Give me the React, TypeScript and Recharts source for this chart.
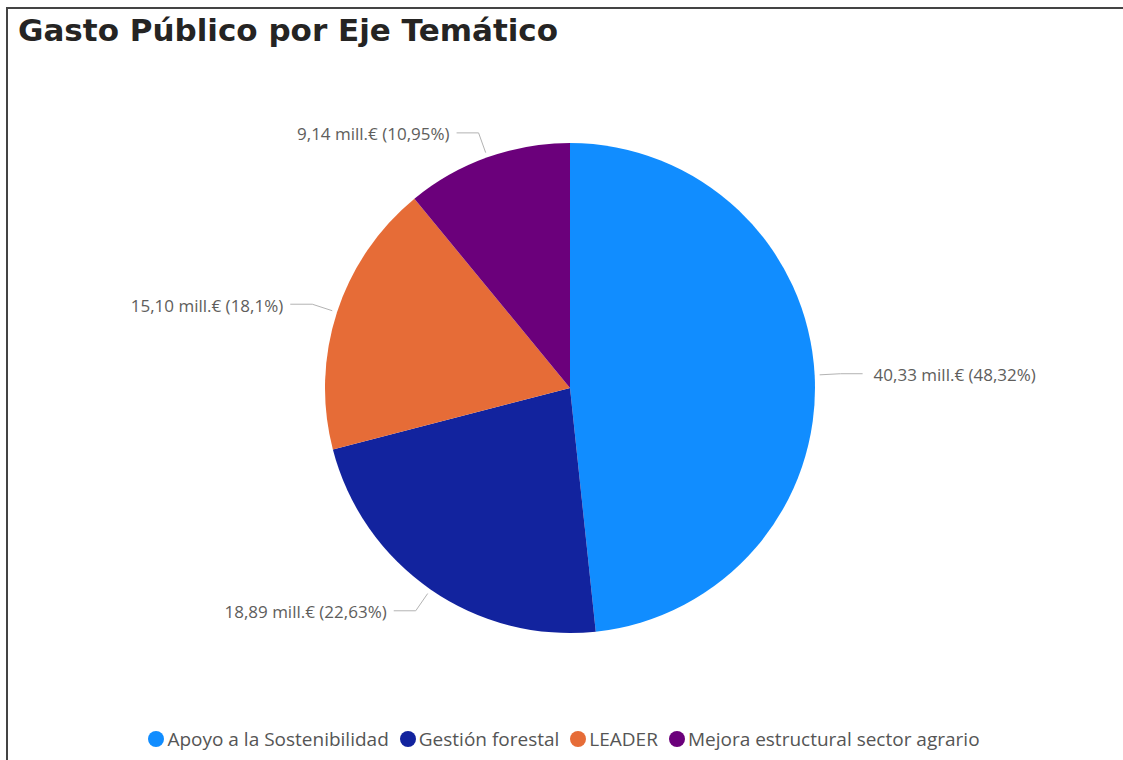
import React from "react";
import { PieChart, Pie, Cell } from "recharts";

const categories = [
  "Apoyo a la Sostenibilidad",
  "Gestión forestal",
  "LEADER",
  "Mejora estructural sector agrario",
];
const values = [40.33, 18.89, 15.1, 9.14];
const percents = ["48,32", "22,63", "18,1", "10,95"];
const colors = ["#118DFF", "#12239E", "#E66C37", "#6B007B"];

const data = categories.map((name, i) => ({
  name,
  value: values[i],
  label: `${values[i].toFixed(2).replace(".", ",")} mill.€ (${percents[i]}%)`,
}));

const RAD = Math.PI / 180;
const FONT = "'Open Sans', 'Noto Sans', sans-serif";

const renderLabel = (props: any) => {
  const { cx, cy, midAngle, outerRadius, index } = props;
  const cos = Math.cos(-midAngle * RAD);
  const sin = Math.sin(-midAngle * RAD);
  const sx = cx + (outerRadius + 5) * cos;
  const sy = cy + (outerRadius + 5) * sin;
  const mx = cx + (outerRadius + 26) * cos;
  const my = cy + (outerRadius + 26) * sin;
  const right = cos >= 0;
  const ex = mx + (right ? 22 : -22);
  const tx = ex + (right ? 11 : -7);
  return (
    <g key={`lbl-${index}`}>
      <polyline
        points={`${sx},${sy} ${mx},${my} ${ex},${my}`}
        fill="none"
        stroke="#b3b3b3"
        strokeWidth={1}
      />
      <text
        x={tx}
        y={my + 1}
        textAnchor={right ? "start" : "end"}
        dominantBaseline="central"
        fill="#605E5C"
        fontSize={17}
        fontFamily={FONT}
      >
        {data[index].label}
      </text>
    </g>
  );
};

export default function App() {
  return (
    <div
      style={{
        position: "absolute",
        left: 0,
        top: 0,
        width: 1123,
        height: 760,
        background: "#fff",
        overflow: "hidden",
      }}
    >
      <div
        style={{
          position: "absolute",
          left: 6,
          top: 7,
          width: 1130,
          height: 770,
          borderLeft: "2px solid #444",
          borderTop: "2px solid #444",
        }}
      />
      <div
        style={{
          position: "absolute",
          left: 18,
          top: 12,
          fontFamily: "'DejaVu Sans', sans-serif",
          fontWeight: 700,
          fontSize: 31,
          color: "#252423",
          whiteSpace: "nowrap",
        }}
      >
        Gasto Público por Eje Temático
      </div>
      <div style={{ position: "absolute", left: 0, top: 0 }}>
        <PieChart
          width={1123}
          height={760}
          margin={{ top: 0, right: 0, bottom: 0, left: 0 }}
        >
          <Pie
            data={data}
            dataKey="value"
            nameKey="name"
            cx={570}
            cy={388}
            outerRadius={245}
            startAngle={90}
            endAngle={-270}
            stroke="none"
            label={renderLabel}
            labelLine={false}
            isAnimationActive={false}
          >
            {data.map((d, i) => (
              <Cell key={d.name} fill={colors[i]} />
            ))}
          </Pie>
        </PieChart>
      </div>
      <div
        style={{
          position: "absolute",
          left: 14,
          top: 726,
          width: 1111,
          display: "flex",
          justifyContent: "center",
          alignItems: "center",
          fontFamily: FONT,
          fontSize: 19,
          color: "#555555",
          whiteSpace: "nowrap",
        }}
      >
        {data.map((d, i) => (
          <span
            key={d.name}
            style={{ display: "inline-flex", alignItems: "center", marginRight: 11 }}
          >
            <span
              style={{
                width: 16,
                height: 16,
                borderRadius: "50%",
                background: colors[i],
                display: "inline-block",
                marginRight: 3,
              }}
            />
            {d.name}
          </span>
        ))}
      </div>
    </div>
  );
}
